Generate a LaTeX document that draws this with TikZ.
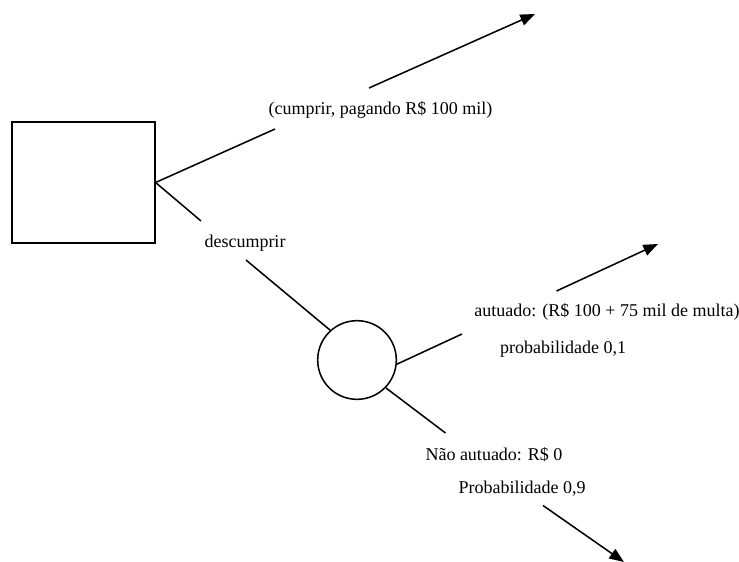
\documentclass[tikz,border=0pt]{standalone}
\usepackage{fontspec}
\setmainfont{Liberation Serif}
\usetikzlibrary{arrows.meta}

\tikzset{
	branch/.style={line width=1.15pt},
	payoff/.style={line width=1.15pt,-{Triangle[length=11pt,width=8.5pt]}},
	lbl/.style={inner sep=0pt,font=\fontsize{13.5}{16}\selectfont}
}

\begin{document}
\begin{tikzpicture}[x=0.75pt,y=-0.75pt]
	\useasboundingbox (0,0) rectangle (739,561);

	\node[draw,line width=1.15pt,minimum width=107pt,minimum height=91pt] (decision) at (83.5,182.5) {};
	\node[draw,line width=1.15pt,circle,minimum size=59pt,inner sep=0pt] (chance) at (357,360) {};

	\node[lbl] (cumprir) at (380.5,110) {(cumprir, pagando R\$ 100 mil)};
	\node[lbl] (descumprir) at (245,243) {descumprir};
	\node[lbl] (autuado) at (607,311.5) {autuado: (R\$ 100 + 75 mil de multa)};
	\node[lbl] (probA) at (563,349.5) {probabilidade 0,1};
	\node[lbl] (naoautuado) at (494,455) {Não autuado: R\$ 0};
	\node[lbl] (probB) at (522,489) {Probabilidade 0,9};

	\coordinate (cumprirIn) at (275,129);
	\coordinate (cumprirOut) at (369,88);
	\coordinate (cumprirEnd) at (535,14);
	\coordinate (descIn) at (201,221);
	\coordinate (descOut) at (246,260);
	\coordinate (autIn) at (462,334);
	\coordinate (autOut) at (556.5,291);
	\coordinate (autEnd) at (658,244);
	\coordinate (naoIn) at (445.5,433);
	\coordinate (naoOut) at (543,505.5);
	\coordinate (naoEnd) at (624,562);

	\draw[branch] (decision.east) -- (cumprirIn);
	\draw[payoff] (cumprirOut) -- (cumprirEnd);
	\draw[branch] (decision.east) -- (descIn);
	\draw[branch] (descOut) -- (chance.132);
	\draw[branch] (chance.-6) -- (autIn);
	\draw[payoff] (autOut) -- (autEnd);
	\draw[branch] (chance.-44) -- (naoIn);
	\draw[payoff] (naoOut) -- (naoEnd);
\end{tikzpicture}
\end{document}
